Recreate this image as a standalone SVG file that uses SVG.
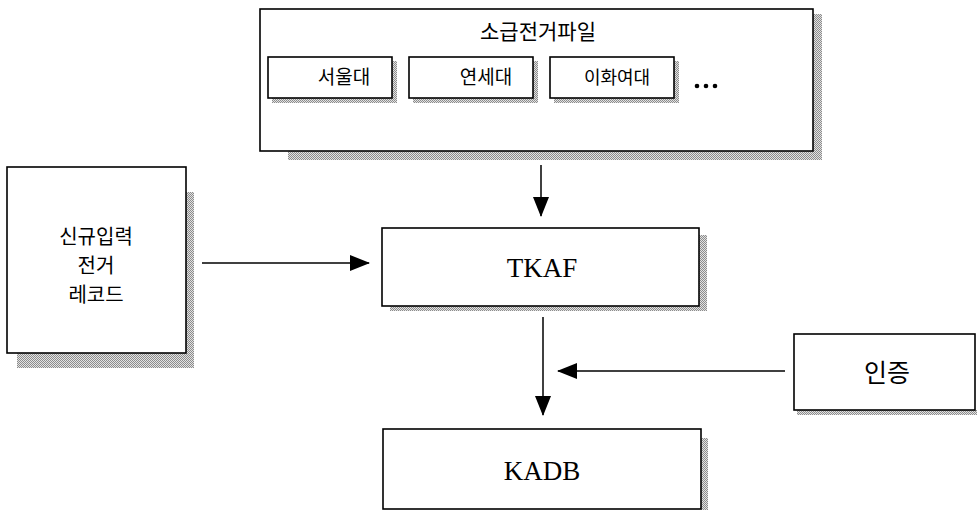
<svg xmlns="http://www.w3.org/2000/svg" width="977" height="510" viewBox="0 0 977 510">
  <defs>
    <pattern id="hatch" width="2" height="2" patternUnits="userSpaceOnUse">
      <rect width="2" height="2" fill="#e2e2e2"/>
      <rect width="1" height="1" fill="#8c8c8c"/>
      <rect x="1" y="1" width="1" height="1" fill="#8c8c8c"/>
    </pattern>
    <marker id="arrow" viewBox="0 0 20 16" refX="19" refY="8" markerWidth="20" markerHeight="16" markerUnits="userSpaceOnUse" orient="auto">
      <path d="M0,0 L20,8 L0,16 z" fill="#000"/>
    </marker>
  </defs>
  <style>
    .box { fill: #fff; stroke: #000; stroke-width: 1.6; }
    .shadow { fill: url(#hatch); }
    .kr { font-family: "Noto Sans CJK KR", "Noto Sans", sans-serif; fill: #000; text-anchor: middle; }
    .lat { font-family: "Liberation Serif", "Times New Roman", serif; fill: #000; text-anchor: middle; }
    .conn { stroke: #000; stroke-width: 1.5; fill: none; }
  </style>
  <rect width="977" height="510" fill="#fff"/>

  <g id="node-source-files">
    <path class="shadow" d="M813,14 H822 V160 H288 V151 H813 Z"/>
    <rect class="box" x="260" y="9" width="553" height="142"/>
    <text class="kr" x="538" y="39" font-size="21">소급전거파일</text>
    <g id="node-seoul">
      <path class="shadow" d="M392,61 H397 V103 H272 V98 H392 Z"/>
      <rect class="box" x="268" y="57" width="124" height="41"/>
      <text class="kr" x="344" y="84" font-size="19">서울대</text>
    </g>
    <g id="node-yonsei">
      <path class="shadow" d="M533,61 H538 V103 H413 V98 H533 Z"/>
      <rect class="box" x="409" y="57" width="124" height="41"/>
      <text class="kr" x="486" y="84" font-size="19">연세대</text>
    </g>
    <g id="node-ewha">
      <path class="shadow" d="M674,61 H679 V103 H554 V98 H674 Z"/>
      <rect class="box" x="550" y="57" width="124" height="41"/>
      <text class="kr" x="617" y="84" font-size="18">이화여대</text>
    </g>
    <g id="ellipsis">
      <circle cx="697" cy="86" r="2.3" fill="#000"/>
      <circle cx="706" cy="86" r="2.3" fill="#000"/>
      <circle cx="715" cy="86" r="2.3" fill="#000"/>
    </g>
  </g>

  <g id="node-new-input">
    <path class="shadow" d="M186,192 H194 V368 H17 V353 H186 Z"/>
    <rect class="box" x="7" y="167" width="179" height="186"/>
    <text class="kr" font-size="20"><tspan x="96" y="244">신규입력</tspan><tspan x="96" y="273">전거</tspan><tspan x="96" y="302">레코드</tspan></text>
  </g>

  <g id="node-tkaf">
    <path class="shadow" d="M699,235 H707 V311 H390 V306 H699 Z"/>
    <rect class="box" x="382" y="228" width="317" height="78"/>
    <text class="lat" x="542" y="277" font-size="27">TKAF</text>
  </g>

  <g id="node-auth">
    <path class="shadow" d="M797,410 H977 V415 H797 Z"/>
    <rect class="box" x="794" y="334" width="181" height="76"/>
    <text class="kr" x="887" y="382" font-size="25">인증</text>
  </g>

  <g id="node-kadb">
    <path class="shadow" d="M701,438 H708 V510 H701 Z"/>
    <rect class="box" x="383" y="429" width="318" height="80"/>
    <text class="lat" x="542" y="480" font-size="27">KADB</text>
  </g>

  <g id="connectors">
    <line class="conn" x1="541" y1="165" x2="541" y2="216" marker-end="url(#arrow)"/>
    <line class="conn" x1="202" y1="263" x2="369" y2="263" marker-end="url(#arrow)"/>
    <line class="conn" x1="543" y1="317" x2="543" y2="415" marker-end="url(#arrow)"/>
    <line class="conn" x1="785" y1="371" x2="558" y2="371" marker-end="url(#arrow)"/>
  </g>
</svg>
